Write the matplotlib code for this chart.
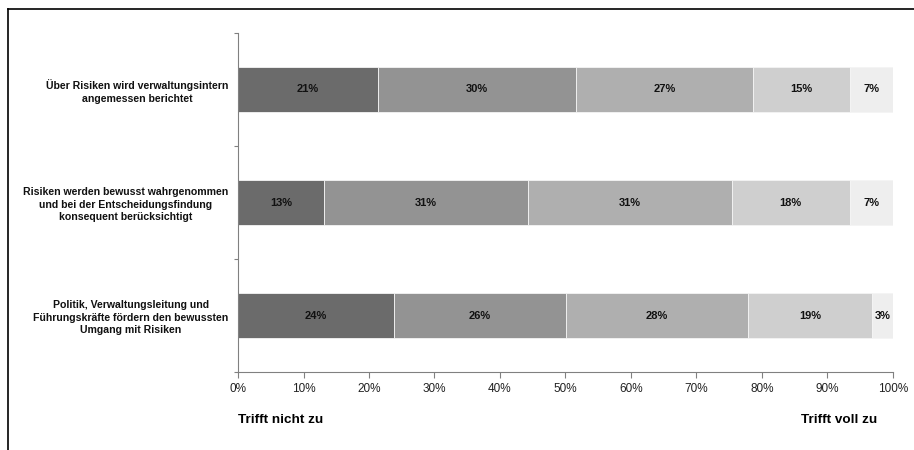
import matplotlib.pyplot as plt
import numpy as np
from matplotlib.lines import Line2D

plt.rcParams['font.family'] = ['Liberation Sans', 'DejaVu Sans']

# Statements (top to bottom)
statements = [
    'Über Risiken wird verwaltungsintern\nangemessen berichtet',
    'Risiken werden bewusst wahrgenommen\nund bei der Entscheidungsfindung\nkonsequent berücksichtigt',
    'Politik, Verwaltungsleitung und\nFührungskräfte fördern den bewussten\nUmgang mit Risiken',
]

# Shares per answer level (1 = trifft nicht zu ... 5 = trifft voll zu), in %
level_1 = [21.4, 13.1, 23.8]
level_2 = [30.2, 31.2, 26.3]
level_3 = [27.0, 31.1, 27.8]
level_4 = [14.8, 18.0, 18.9]
level_5 = [6.6, 6.6, 3.2]

x_ticks = [0, 10, 20, 30, 40, 50, 60, 70, 80, 90, 100]

colors = ['#6b6b6b', '#939393', '#afafaf', '#cfcfcf', '#eeeeee']

fig = plt.figure(figsize=(9.14, 4.5), dpi=100)
ax = fig.add_axes([0.2604, 0.1733, 0.7166, 0.7534])

y = np.arange(len(statements))
left = np.zeros(len(statements))
for vals, col in zip([level_1, level_2, level_3, level_4, level_5], colors):
    vals = np.array(vals)
    ax.barh(y, vals, left=left, height=0.4, color=col, edgecolor='#f4f4f4', linewidth=0.6)
    for yi, l, v in zip(y, left, vals):
        ax.text(l + v / 2, yi, f'{v:.0f}%', ha='center', va='center',
                fontsize=8, fontweight='bold', color='#111111')
    left += vals

ax.set_xlim(0, 100)
ax.set_ylim(len(statements) - 0.5, -0.5)

# x axis
ax.set_xticks(x_ticks)
ax.set_xticklabels([f'{t}%' for t in x_ticks], fontsize=8.5, color='#222222')
ax.tick_params(axis='x', direction='out', length=4, color='#808080', pad=4)

# y axis: ticks at boundaries, labels at centers
ax.set_yticks(np.arange(-0.5, len(statements), 1.0))
ax.set_yticklabels([])
ax.set_yticks(y, minor=True)
ax.set_yticklabels(statements, minor=True, fontsize=7.6, fontweight='bold', color='#111111')
for lab in ax.get_yticklabels(minor=True):
    lab.set_multialignment('center')
    lab.set_linespacing(1.3)
ax.tick_params(axis='y', which='major', direction='out', length=3, color='#808080')
ax.tick_params(axis='y', which='minor', length=0, pad=7)

for s in ['top', 'right']:
    ax.spines[s].set_visible(False)
ax.spines['left'].set_color('#808080')
ax.spines['bottom'].set_color('#808080')

fig.text(238 / 914, 1 - 420 / 450, 'Trifft nicht zu', ha='left', va='center',
         fontsize=9.7, fontweight='bold')
fig.text(877 / 914, 1 - 420 / 450, 'Trifft voll zu', ha='right', va='center',
         fontsize=9.7, fontweight='bold')

# frame lines from the source slide
fig.add_artist(Line2D([8 / 914, 8 / 914], [0, 1 - 9 / 450], color='black', lw=1.2))
fig.add_artist(Line2D([8 / 914, 1], [1 - 9 / 450, 1 - 9 / 450], color='black', lw=1.2))

plt.savefig('out.png', dpi=100)
plt.close(fig)
